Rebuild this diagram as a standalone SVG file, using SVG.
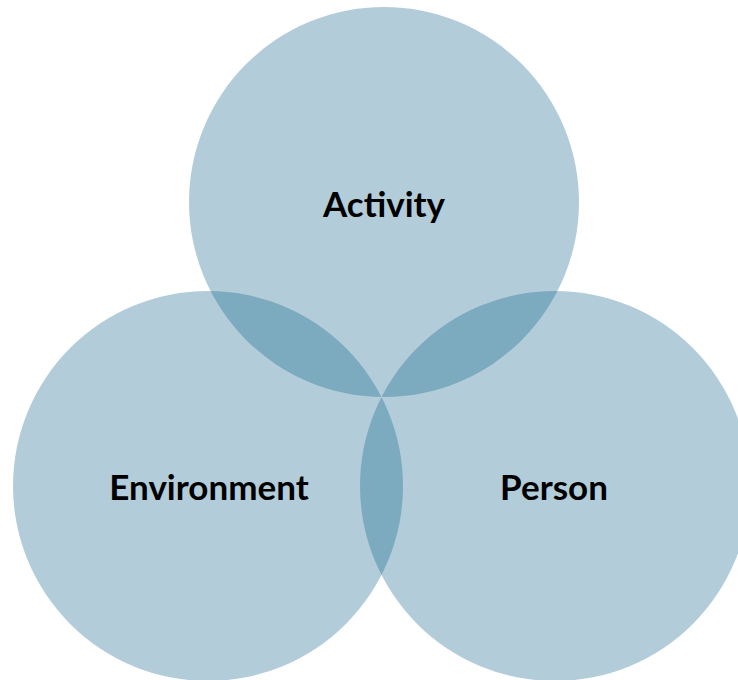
<svg xmlns="http://www.w3.org/2000/svg" width="738" height="680" viewBox="0 0 738 680">
<style>
.c{fill:rgb(0,88,130);fill-opacity:0.3}
.t{font-family:Lato,"Open Sans","Liberation Sans",sans-serif;font-weight:bold;font-size:35px;fill:#000;text-anchor:middle}
</style>
<rect width="738" height="680" fill="#fff"/>
<g id="activity"><circle class="c" cx="384" cy="202" r="195"/><text class="t" x="384" y="217">Activity</text></g>
<g id="environment"><circle class="c" cx="208" cy="486" r="195"/><text class="t" x="209" y="500">Environment</text></g>
<g id="person"><circle class="c" cx="555" cy="486" r="195"/><text class="t" x="554" y="500">Person</text></g>
<g id="connectors"/>
</svg>
